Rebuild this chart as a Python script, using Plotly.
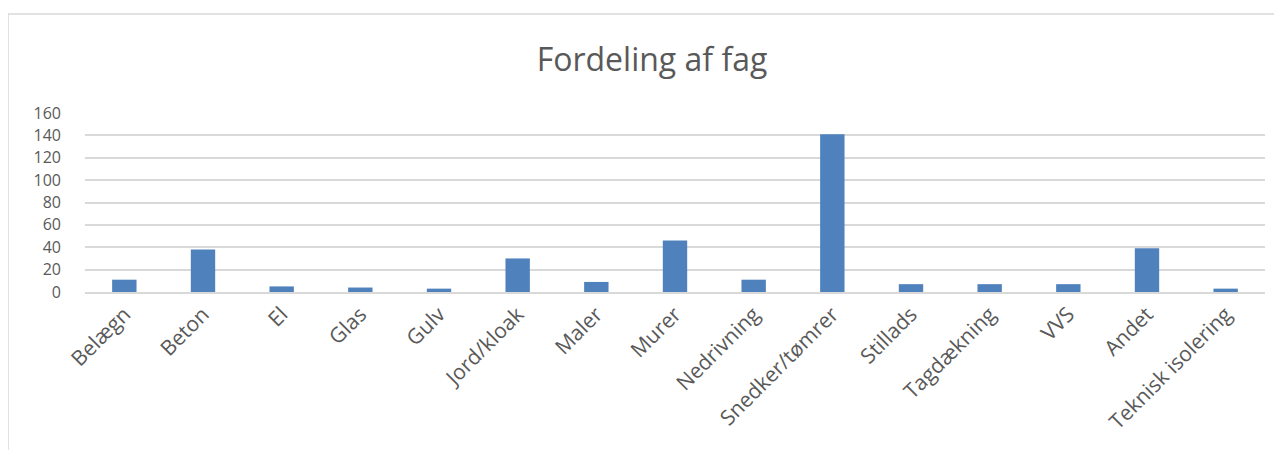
import plotly.graph_objects as go

categories = ["Belægn", "Beton", "El", "Glas", "Gulv", "Jord/kloak", "Maler", "Murer",
              "Nedrivning", "Snedker/tømrer", "Stillads", "Tagdækning", "VVS", "Andet",
              "Teknisk isolering"]
values = [11, 38, 5, 4, 3, 30, 9, 46, 11, 141, 7, 7, 7, 39, 3]
y_ticks = [0, 20, 40, 60, 80, 100, 120, 140, 160]

# page has an 8px body margin: work in figure coordinates (page - 8)
OFF = 8
W, H = 1282 - OFF, 450 - OFF
L, T = 85 - OFF, 113 - OFF
R = W - (1265 - OFF)
B = H - (292 - OFF)
pw, ph = W - L - R, H - T - B

def px_x(x):
    return (x - OFF - L) / pw

def px_y(y):
    return (H - B - (y - OFF)) / ph

fig = go.Figure(go.Bar(x=categories, y=values, marker=dict(color="#4F81BD", line=dict(width=0))))

fig.update_layout(
    width=W, height=H,
    margin=dict(l=L, r=R, t=T, b=B),
    paper_bgcolor="white", plot_bgcolor="white",
    bargap=0.69,
    showlegend=False,
    font=dict(family="Open Sans", color="#595959"),
    title=dict(text="Fordeling af fag", x=(652 - OFF) / W, xanchor="center",
               y=1 - (60 - OFF) / H, yanchor="middle",
               font=dict(size=32, color="#595959", family="Open Sans")),
    xaxis=dict(tickangle=-45, tickfont=dict(size=21, color="#595959"),
               showgrid=False, showline=True, linecolor="#d9d9d9", linewidth=1.5,
               ticks=""),
    yaxis=dict(range=[0, 160], tickvals=y_ticks, tickfont=dict(size=16, color="#595959"),
               showgrid=True, gridcolor="#d9d9d9", gridwidth=1.5, zeroline=False,
               showline=False, ticks="", ticklabelstandoff=23),
    shapes=[dict(type="rect", xref="paper", yref="paper",
                 x0=px_x(8), x1=px_x(1282 + 20), y0=px_y(450 + 20), y1=px_y(14),
                 line=dict(color="#d9d9d9", width=1.5), fillcolor="rgba(0,0,0,0)",
                 layer="below")],
)

fig.write_html("out.html")
